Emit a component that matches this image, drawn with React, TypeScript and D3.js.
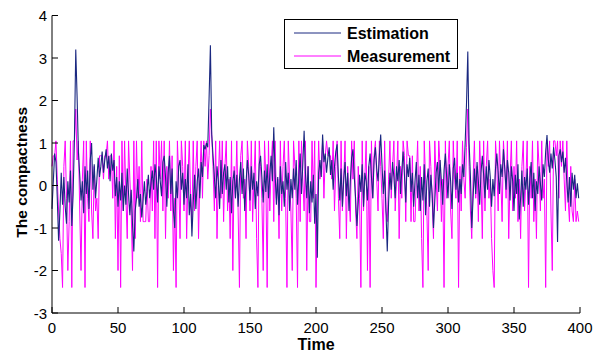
import React from "react";
import * as d3 from "d3";

const estimation: number[] = [
  -0.55, 0.1, 0.75, 0.55, -0.3, -1.3, -0.6, 0.3, -0.45, 0.2, -0.5, -0.9, 0.1, -0.4, 0.35, -0.95, -0.2, 1.1, 3.2, 2.1,
  0.8, 0.25, -0.35, 0.1, -0.65, 0.45, -0.2, 0.35, -0.55, 0.6, 1.0, -0.1, 0.5, -0.3, 0.15, 0.65, 0.2, 0.45, 0.8, 0.3,
  0.6, 0.85, 0.4, 0.7, 0.1, 0.75, 0.35, 0.6, -0.25, 0.2, -0.5, 0.1, -0.35, 0.3, -0.6, 0.0, -0.45, 0.4, -0.2, -0.7,
  -0.1, -0.9, -1.55, -0.6, -0.3, 0.15, -0.5, -0.2, -0.75, -0.35, 0.1, -0.45, -0.15, 0.25, -0.3, 0.05, 0.35, -0.1, 0.5, 0.2,
  -0.4, 0.45, 0.1, -0.25, 0.55, 0.7, 0.2, -0.5, 0.3, 0.7, -0.2, 0.4, -0.6, -1.0, 0.1, -0.3, 0.45, 0.6, -0.1, 0.3,
  -0.45, 0.15, -0.3, 0.5, -0.7, -0.2, -1.2, -0.4, 0.25, -0.55, 0.1, 0.4, -0.3, 0.55, 0.2, 0.95, 0.85, 1.0, 0.9, 2.05,
  3.3, 1.2, 0.7, 0.2, -0.3, 0.45, 0.1, -0.55, 0.6, -0.2, 0.3, 0.5, -0.1, 0.45, -0.4, 0.2, -0.65, 0.1, 0.35, -0.3,
  0.25, -0.5, 0.15, 0.55, -0.2, 0.4, -0.6, 0.05, 0.6, 0.25, -0.35, 0.45, -0.1, 0.3, -0.55, 0.1, -0.25, 0.5, 0.7, 0.2,
  -0.4, 0.35, -0.15, 0.5, -0.3, 0.25, 0.7, 0.1, 1.37, 0.3, -0.45, 0.2, -0.7, 0.45, -0.2, 0.1, -0.5, 0.55, -0.1, 0.3,
  -0.6, 0.15, -0.3, 0.4, -0.1, 0.6, -0.45, 0.2, 0.75, -0.2, 0.5, 1.29, 0.3, -0.3, 0.45, -0.65, 0.1, -0.4, 0.25, -0.9,
  -0.2, -1.7, 0.3, 0.6, 0.2, 1.2, 0.55, 0.75, 0.3, 0.65, 0.9, 0.25, 0.6, -0.1, 0.45, 0.8, 0.97, 0.2, -0.35, 0.4,
  -0.5, 0.15, 0.55, -0.25, 0.3, -0.6, 0.1, 0.65, 0.85, 0.2, -0.3, -0.95, -0.4, 0.25, -0.15, 0.5, -0.5, 0.3, 0.1, -0.35,
  0.45, 0.75, 0.2, -0.3, 0.6, 0.9, 0.4, 0.1, 0.7, 1.2, 0.5, -0.2, 0.35, -0.6, -1.55, -0.4, 0.3, -0.1, 0.55, 0.2,
  -0.3, 0.45, 0.1, 0.6, -0.2, 0.35, 0.8, 0.25, -0.4, 0.5, 0.2, 0.65, -0.15, 0.3, -0.5, 0.1, 0.55, -0.3, 0.25, -0.6,
  0.2, -0.35, 0.5, -0.7, 0.1, 0.4, -0.5, 0.25, -0.2, -1.0, -0.35, 0.3, 0.55, -0.15, 0.6, 0.1, -0.45, 0.35, 0.75, 0.2,
  -0.3, 0.5, 0.1, -0.55, 0.4, 0.65, -0.1, 0.3, -0.4, 0.15, -0.2, 0.5, 0.2, 1.0, 1.9, 3.15, 1.0, 0.2, -1.0, -0.3,
  0.4, -0.2, 0.55, 0.1, -0.45, 0.3, 0.7, 0.25, -0.3, 0.45, -0.1, 0.6, 0.2, -0.5, 0.15, -0.25, 0.4, 0.75, 0.3, -0.2,
  0.5, 0.2, 0.85, 0.4, -0.1, 0.6, 0.3, -0.35, 0.45, 0.1, -0.6, 0.25, -0.2, 0.5, -0.8, -0.3, 0.35, -0.5, 0.2, -0.1,
  0.4, -0.45, 0.15, 0.55, -0.3, 0.3, -0.6, 0.1, -0.2, 0.45, 0.05, -0.35, 0.5, 0.2, 0.8, 1.19, 0.6, 0.3, 0.75, 0.4,
  0.9, 0.6, 0.2, -1.33, 0.7, 0.85, 0.55, 0.8, 0.3, 0.65, 0.1, -0.4, 0.2, -0.5, 0.3, -0.1, 0.25, -0.3, 0.05, -0.3,
];

const measurement: number[] = [
  0.45, 0.7, 0.7, 1.05, 0.15, -0.6, -1.25, -1.6, -2.4, 0.45, 1.05, -0.3, -2.0, -0.85, 1.05, -2.4, 1.05, 1.05, 1.8, 0.6,
  1.05, -0.6, -2.0, 0.15, 1.05, -2.4, 1.05, -0.3, -0.85, 1.05, -0.6, -1.25, 0.45, -0.6, -0.3, -1.25, 0.7, 0.7, 0.7, 0.15,
  0.7, 0.7, 1.05, 0.15, 0.7, 0.7, -0.3, 1.05, -1.25, 0.45, -2.0, 0.7, -2.4, 1.05, -0.6, 1.05, -0.3, -1.25, 1.05, 0.15,
  -0.6, -2.0, 1.05, -1.25, 1.05, -0.3, 0.45, -0.85, 1.05, -0.85, -0.85, -0.85, 0.15, -0.85, -0.85, 0.45, -0.6, 1.05, -1.25, 1.05,
  -2.4, 1.05, 0.15, 1.05, -0.6, 1.05, -1.25, 0.45, -0.3, 1.05, -0.6, 0.7, -2.0, -0.3, -2.4, 1.05, 0.15, -1.25, 1.05, 0.45,
  -0.6, 1.05, -1.25, 0.15, 1.05, -0.3, -0.85, 1.05, -0.6, 0.45, 1.05, -1.25, 0.15, 1.05, -0.3, 1.05, 0.45, 1.05, 0.15, 0.7,
  1.8, 1.2, 0.45, -0.6, 1.05, -1.25, 0.15, 1.05, -0.3, 1.05, -0.85, 0.45, 1.05, -0.6, 0.15, -1.25, 1.05, -2.0, 0.45, -0.3,
  1.05, -0.6, -2.4, 0.7, 1.05, -0.3, 0.15, -1.25, 1.05, 0.45, -0.6, 1.05, -0.85, 0.15, 1.05, -1.25, -2.4, 1.05, 0.45, -0.3,
  -2.0, 1.05, 0.15, -2.4, 1.05, -0.6, 0.45, 1.05, -0.85, 1.05, -0.3, 0.15, -1.25, 1.05, -0.6, 0.45, 1.05, -0.3, -2.4, 1.05,
  0.15, -0.6, -2.0, 1.05, 0.45, -0.3, -2.4, 1.05, -0.85, 1.05, 0.15, -0.6, 1.05, -2.0, 0.45, -0.85, -0.85, 1.05, -0.3, 1.05,
  -2.4, -0.6, 1.05, 0.15, 0.45, 1.05, -0.3, 0.7, 1.05, 0.7, 0.7, 0.7, 0.15, 1.05, -0.6, 0.45, 1.05, -0.3, -1.25, 1.05,
  -0.6, 0.15, 1.05, -1.25, 0.45, -0.3, -0.85, 1.05, 0.15, 1.05, -0.6, -1.25, 0.45, -0.3, -2.4, 1.05, -0.6, 0.15, 1.05, -2.0,
  0.45, -2.4, 1.05, -0.3, 0.7, 1.05, 0.15, -0.6, 1.05, 0.45, -0.3, -1.25, 1.05, -0.6, -0.85, 0.15, 1.05, -0.3, 0.45, 1.05,
  -0.6, 0.15, 1.05, -1.25, 0.45, -0.3, 1.05, 0.7, -0.85, 1.05, 0.7, 0.7, -0.85, 0.7, -0.85, -0.85, 0.15, 1.05, -0.6, 0.45,
  -1.25, -2.4, 1.05, 0.15, -0.6, -2.0, 1.05, 0.45, -0.3, -1.25, 1.05, 0.15, -0.6, 1.05, 0.45, -0.85, 0.15, -2.4, 1.05, -0.3,
  0.45, 1.05, -0.6, -1.25, 1.05, 0.15, -0.3, 1.05, -2.4, 0.45, -0.6, 1.05, 0.15, -0.3, 0.9, 1.8, 0.45, -0.6, -1.25, 0.15,
  1.05, -0.3, 0.45, -0.85, 1.05, 0.15, -1.25, 1.05, -0.6, 0.45, 1.05, -0.3, 0.15, -1.25, -2.0, -2.4, 1.05, 0.45, -0.6, 1.05,
  0.15, -0.85, 1.05, 0.45, -0.3, 1.05, -1.25, 0.15, 1.05, -0.6, 0.45, -0.3, 1.05, -0.85, 0.15, -1.25, 0.45, 1.05, -0.6, 0.15,
  1.05, -2.4, 0.45, -0.3, 1.05, -0.85, 0.15, -1.25, 1.05, 0.45, -0.6, 1.05, -0.3, 0.15, -2.4, 1.05, 0.45, 1.05, -0.6, -2.0,
  1.05, 1.05, 0.7, 1.05, -0.3, 1.05, 0.45, 1.05, 0.15, -0.6, 1.05, -0.3, -0.85, 0.45, -0.6, -0.85, 0.15, -0.85, -0.6, -0.85,
];

const xTicks = [0, 50, 100, 150, 200, 250, 300, 350, 400];
const yTicks = [-3, -2, -1, 0, 1, 2, 3, 4];
const seriesNames = ["Estimation", "Measurement"];

const W = 597;
const H = 351;
const FONT = "Arial, 'Liberation Sans', Helvetica, sans-serif";
const EST_COLOR = "#1a2880";
const MEAS_COLOR = "#ff00ff";

export default function App() {
  const x = d3.scaleLinear().domain([0, 400]).range([52, 580]);
  const y = d3.scaleLinear().domain([-3, 4]).range([313, 15.5]);

  const line = d3
    .line<number>()
    .x((_, i) => x(i))
    .y((d) => y(d));

  const x0 = x(0);
  const yBottom = y(-3);

  return (
    <svg
      width={W}
      height={H}
      style={{ position: "absolute", left: 0, top: 0, background: "#fff" }}
      fontFamily={FONT}
    >
      <rect x={0} y={0} width={W} height={H} fill="#fff" />
      <g>
        <path d={line(measurement) || ""} fill="none" stroke={MEAS_COLOR} strokeWidth={1} />
        <path d={line(estimation) || ""} fill="none" stroke={EST_COLOR} strokeWidth={1.1} />
      </g>
      <line x1={x0} x2={x0} y1={y(4)} y2={yBottom} stroke="#000" strokeWidth={1} />
      <line x1={x0} x2={x(400)} y1={yBottom} y2={yBottom} stroke="#000" strokeWidth={1} />
      {yTicks.map((t) => (
        <g key={"y" + t}>
          <line x1={x0} x2={x0 + 6} y1={y(t)} y2={y(t)} stroke="#000" strokeWidth={1} />
          <text
            x={x0 - 5}
            y={y(t)}
            textAnchor="end"
            dominantBaseline="central"
            fontSize={15}
            fill="#000"
          >
            {t}
          </text>
        </g>
      ))}
      {xTicks.map((t) => (
        <g key={"x" + t}>
          <line x1={x(t)} x2={x(t)} y1={yBottom} y2={yBottom - 6} stroke="#000" strokeWidth={1} />
          <text x={x(t)} y={327} textAnchor="middle" dominantBaseline="central" fontSize={15} fill="#000">
            {t}
          </text>
        </g>
      ))}
      <text x={(x(0) + x(400)) / 2} y={344} textAnchor="middle" dominantBaseline="central" fontSize={16} fontWeight="bold">
        Time
      </text>
      <text
        transform={`translate(21, ${(y(4) + yBottom) / 2 + 8}) rotate(-90)`}
        textAnchor="middle"
        dominantBaseline="central"
        fontSize={15.5}
        fontWeight="bold"
      >
        The compactness
      </text>
      <g>
        <rect x={284.5} y={19.5} width={173} height={49} fill="#fff" stroke="#000" strokeWidth={1} />
        {seriesNames.map((n, i) => (
          <g key={n}>
            <line
              x1={294}
              x2={341}
              y1={33 + i * 23}
              y2={33 + i * 23}
              stroke={i === 0 ? EST_COLOR : MEAS_COLOR}
              strokeWidth={1}
            />
            <text x={347} y={33 + i * 23} dominantBaseline="central" fontSize={16} fontWeight="bold">
              {n}
            </text>
          </g>
        ))}
      </g>
    </svg>
  );
}
